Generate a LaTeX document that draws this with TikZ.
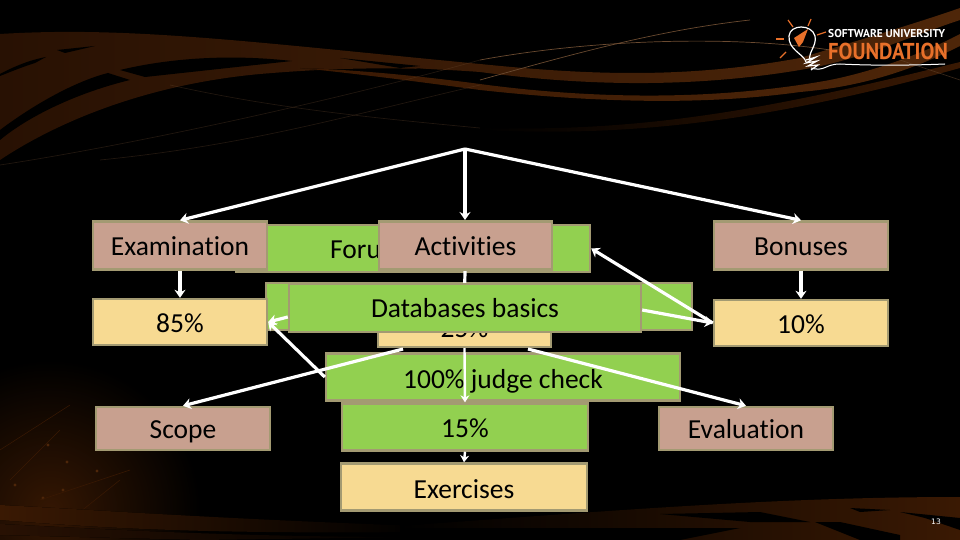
\documentclass[tikz,border=0pt]{standalone}
\usepackage{graphicx}
\usepackage{fontspec}
\setmainfont{Carlito}[Ligatures=NoCommon]
\newfontfamily\logofont{PT Sans}
\newfontfamily\numfont{DejaVu Sans}
\usetikzlibrary{arrows.meta,calc}
\definecolor{cbrown}{HTML}{C8A08F}
\definecolor{cyellow}{HTML}{F7DA92}
\definecolor{cgreen}{HTML}{92D050}
\definecolor{cborder}{HTML}{A39A72}
\definecolor{band}{HTML}{3A1903}
\definecolor{bandd}{HTML}{281103}
\definecolor{bandb}{HTML}{4E2609}
\definecolor{thinl}{HTML}{6A4A30}
\definecolor{lorange}{HTML}{E8702A}
\tikzset{
  x=1pt,y=-1pt,
  pbox/.style={draw=cborder,line width=2.4pt,inner sep=0pt,text=black,font=\fontsize{27.5}{30}\selectfont,anchor=center,text height=20pt,text depth=0pt},
  brownbox/.style={pbox,fill=cbrown,text height=19pt},
  yellowbox/.style={pbox,fill=cyellow},
  greenbox/.style={pbox,fill=cgreen},
  conn/.style={draw=white,line width=3.2pt,-{Stealth[length=8pt,width=11pt]}},
  thinconn/.style={draw=white,line width=2.4pt,-{Stealth[length=7pt,width=9pt]}},
  thinband/.style={draw=thinl,line width=.7pt},
}
\begin{document}
\begin{tikzpicture}
\useasboundingbox (0,0) rectangle (960,540);
\fill[black] (0,0) rectangle (960,540);
% swoosh bands, upper
\fill[left color=bandd,middle color=band,right color=bandb]
  (0,34) .. controls (130,26) and (250,42) .. (480,64)
  .. controls (580,74) and (680,80) .. (800,58)
  .. controls (860,40) and (920,22) .. (960,8) -- (960,20)
  .. controls (900,40) and (860,60) .. (800,70)
  .. controls (680,90) and (570,84) .. (480,72)
  .. controls (400,66) and (330,68) .. (260,74)
  .. controls (150,84) and (60,120) .. (0,160) -- cycle;
\fill[left color=band,right color=bandb]
  (300,68) .. controls (360,70) and (420,76) .. (480,84)
  .. controls (600,100) and (720,100) .. (830,80)
  .. controls (880,70) and (930,50) .. (960,34) -- (960,46)
  .. controls (920,66) and (870,86) .. (800,92)
  .. controls (700,106) and (590,102) .. (480,90)
  .. controls (420,82) and (360,74) .. (300,68) -- cycle;
\fill[black] (0,74) .. controls (15,66) and (30,60) .. (46,57) -- (35,63) .. controls (25,66) and (10,72) .. (0,76) -- cycle;
\fill[black] (57,50) -- (95,46) -- (65,53) -- cycle;
\fill[black] (120,70) .. controls (170,58) and (230,54) .. (292,61) -- (145,77) -- cycle;
\fill[black] (0,130) .. controls (40,100) and (80,80) .. (108,73) -- (130,80) .. controls (80,92) and (30,115) .. (0,140) -- cycle;
\fill[black] (340,58) -- (420,66) -- (400,68) -- cycle;
\fill[black] (415,68) -- (480,74) -- (480,80) -- (440,74) -- cycle;
\fill[left color=black,right color=band] (480,128) .. controls (640,132) and (760,112) .. (960,62)
   -- (960,68) .. controls (780,118) and (640,138) .. (480,130) -- cycle;
% thin lines
\draw[thinband,opacity=.3] (0,165) .. controls (100,150) and (300,110) .. (480,60);
\draw[thinband,opacity=.3] (100,160) .. controls (250,145) and (350,115) .. (480,85);
\draw[thinband,opacity=.3] (170,85) .. controls (260,105) and (340,115) .. (480,128);
\draw[thinband] (480,60) .. controls (600,38) and (740,36) .. (830,50);
\draw[thinband] (480,80) .. controls (580,52) and (660,30) .. (750,20);
\draw[thinband,opacity=.5] (900,60) -- (960,80);
% bottom glow
\begin{scope}
\clip (0,340) rectangle (340,540);
\shade[inner color=band!90!black,outer color=black] (50,510) circle[radius=150];
\foreach \x/\y in {48/445,67/462,97/471,43/498,77/517,63/490,105/520,15/485}
  \fill[bandb] (\x,\y) circle[radius=1.6];
\foreach \a/\b/\c/\d in {0/450/70/405,10/480/60/430,40/500/130/470,70/520/120/480}
  \draw[band,line width=.5pt] (\a,\b) -- (\c,\d);
\end{scope}
\fill[left color=band,right color=black] (0,505) .. controls (100,510) and (200,518) .. (420,526) -- (420,532) .. controls (200,534) and (100,528) .. (0,520) -- cycle;
\fill[left color=bandd,right color=black] (0,524) .. controls (120,530) and (240,537) .. (420,537) -- (200,540) -- (0,535) -- cycle;
% bottom right band
\fill[left color=black,right color=band] (400,526) .. controls (620,510) and (780,497) .. (960,497) -- (960,540) -- (400,540) -- cycle;
\fill[black] (660,514) -- (760,512) -- (810,522) -- (750,522) -- cycle;
\fill[black] (850,508) -- (890,510) -- (860,512) -- cycle;
\fill[black] (900,512) -- (960,518) -- (960,530) -- (925,518) -- cycle;
\fill[black] (400,528) -- (740,528) -- (680,540) -- (400,540) -- cycle;
\fill[black] (815,522) -- (840,522) -- (900,535) -- (900,540) -- (860,540) -- cycle;
% logo
\draw[white,line width=1.2pt] (806,62) .. controls (804,54) and (788,50) .. (789,36) .. controls (790,24) and (812,24) .. (815,36) .. controls (817,46) and (808,52) .. (810,60);
\fill[lorange] (794,38) -- (808,29) -- (803,42) -- (799,47) -- cycle;
\foreach \a/\b/\c/\d in {788/20/793/27, 811/19/808/26, 776/39/784/39, 817/35/826/32, 786/52/780/58}
  \draw[lorange,line width=1.2pt] (\a,\b) -- (\c,\d);
\draw[white,line width=1.2pt] (806,60) -- (816,57) -- (806,63) -- (817,61) -- (808,66) -- (818,65) -- (811,70);
\draw[white,line width=1pt] (811,68) .. controls (825,72) and (825,64) .. (840,64) .. controls (880,66) and (920,65) .. (945,64);
\node[text=white,anchor=west,inner sep=0pt,font=\logofont\bfseries\fontsize{11.4}{14}\selectfont] (logoa) at (828,34) {SOFTWARE UNIVERSITY};
\node[text=lorange,anchor=west,inner sep=0pt,font=\logofont\bfseries\fontsize{23}{26}\selectfont] (logob) at (828,51) {\scalebox{.9}[1]{FOUNDATION}};
\node[text=white,inner sep=0pt,font=\numfont\fontsize{7.5}{9}\selectfont] (pagenum) at (936,522) {13};
% back boxes
\node[greenbox,minimum width=354pt,minimum height=47pt] (forum) at (413,248.5) {};
\node[text=black,anchor=base west,inner sep=0pt,font=\fontsize{27.5}{30}\selectfont] (forumt) at (330,258) {Foru};
\node[greenbox,minimum width=426pt,minimum height=47pt] (dbback) at (479,306.5) {};
\node[yellowbox,minimum width=173pt,minimum height=48pt,text height=28pt] (pc) at (464.5,323) {25\%};
\node[greenbox,minimum width=354pt,minimum height=47pt,text height=22pt] (judge) at (503,377) {100\% judge check};
\node[greenbox,minimum width=246pt,minimum height=47pt] (exam15) at (465,427) {15\%};
\node[yellowbox,minimum width=246pt,minimum height=47pt,text height=22pt] (exer) at (464,487) {Exercises};
\node[brownbox,minimum width=174pt,minimum height=48pt] (exam) at (180,245.5) {Examination};
\node[yellowbox,minimum width=174pt,minimum height=46pt] (p85) at (180,322) {85\%};
\node[brownbox,minimum width=174pt,minimum height=48pt] (bonus) at (801,245.5) {Bonuses};
\node[yellowbox,minimum width=174pt,minimum height=46pt] (p10) at (801,323) {10\%};
\node[brownbox,minimum width=174pt,minimum height=43pt] (scope) at (183,428.5) {Scope};
\node[brownbox,minimum width=174pt,minimum height=43pt] (eval) at (746,428.5) {Evaluation};
% connectors
\coordinate (root) at (465,149);
\coordinate (actn) at (465,220);
\coordinate (acts) at (465,270);
\coordinate (pcl) at (403,349);
\coordinate (pcr) at (528,349);
\draw[conn] (root) -- (exam.north);
\draw[conn] (root) -- (actn);
\draw[conn] (root) -- (bonus.north);
\draw[conn] (exam.south) -- (p85.north);
\draw[conn] (bonus.south) -- (p10.north);
\draw[thinconn] (exam15.south) -- (exer.north);
\draw[thinconn] (pc.south) -- (exam15.north);
\draw[conn] (pcl) -- (scope.north);
\draw[conn] (pcr) -- (eval.north);
\draw[conn] (judge.west) -- (p85.east);
\draw[conn] (p10.west) -- (forum.east);
\draw[white,line width=3.2pt] (acts) -- (pc.north);
% front boxes
\node[greenbox,minimum width=352pt,minimum height=48pt,text height=19pt] (db) at (465,308) {Databases basics};
\draw[conn] ([yshift=-9pt]db.west) -- (p85.east);
\draw[conn] ([yshift=-2pt]db.east) -- (p10.west);
\node[brownbox,minimum width=173pt,minimum height=48pt] (act) at (465.5,245.5) {Activities};
\end{tikzpicture}
\end{document}
